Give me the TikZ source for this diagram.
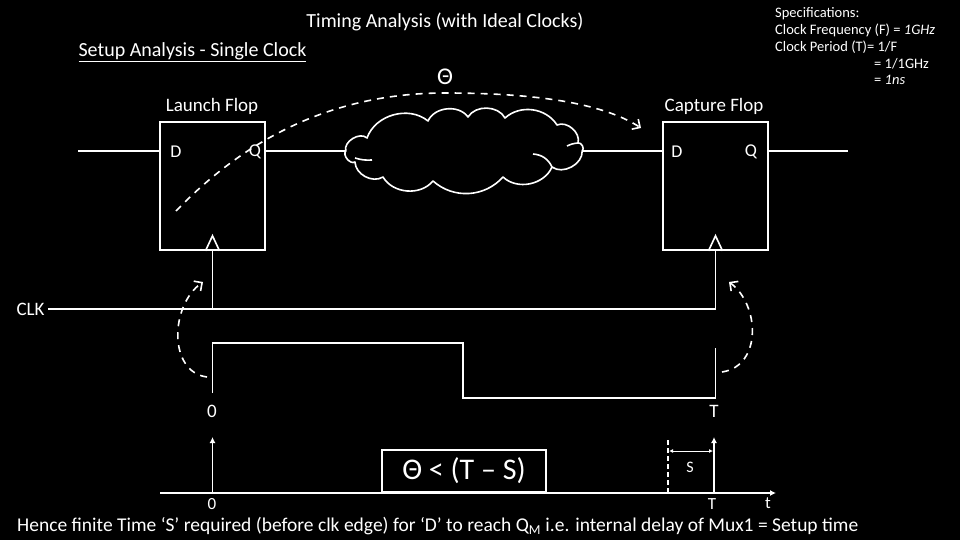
\documentclass[tikz,border=0pt]{standalone}
\usepackage{fontspec}
\setmainfont{Carlito}
\usetikzlibrary{arrows.meta,positioning,calc}

\tikzset{
    wire/.style={white, line width=1.6pt},
    flop/.style={draw=white, line width=1.6pt, minimum width=105pt, minimum height=128pt},
    pin/.style={text=white, font=\fontsize{18}{20}\selectfont},
    lbl/.style={text=white, font=\fontsize{19}{21}\selectfont},
    axlbl/.style={text=white, inner sep=0pt, font=\fontsize{17}{19}\selectfont},
    spec/.style={text=white, anchor=west, inner sep=0pt, font=\fontsize{14.5}{16}\selectfont},
    flow/.style={white, line width=1.6pt, dash pattern=on 7pt off 6pt,
        -{Straight Barb[length=6pt,width=12pt,line width=1.6pt]}},
    tick/.style={white, line width=1.6pt, -{Latex[length=6pt,width=6pt]}},
}

\begin{document}
\begin{tikzpicture}[x=1pt, y=-1pt]

    \fill[black] (0,0) rectangle (960,540);
    \useasboundingbox (0,0) rectangle (960,540);

    % headings
    \node[text=white, font=\fontsize{20}{22}\selectfont] (title) at (445,22) {Timing Analysis (with Ideal Clocks)};
    \node[text=white, font=\fontsize{20}{22}\selectfont, anchor=west] (sub) at (75,52) {\underline{Setup Analysis - Single Clock}};

    \node[spec] (spec1) at (775,14) {Specifications:};
    \node[spec] (spec2) at (775,30) {Clock Frequency (F) = \textit{1GHz}};
    \node[spec] (spec3) at (775,47) {Clock Period (T)= 1/F};
    \node[spec] (spec4) at (874,64) {= 1/1GHz};
    \node[spec] (spec5) at (874,80) {= \textit{1ns}};

    % flops
    \node[flop] (launch) at (212.5,186) {};
    \node[flop] (capture) at (715.5,186) {};
    \node[lbl] (launchlbl) at (212,106) {Launch Flop};
    \node[lbl] (capturelbl) at (714,106) {Capture Flop};

    \node[pin] (launchD) at (176,152) {D};
    \node[pin] (launchQ) at (255,152) {Q};
    \node[pin] (captureD) at (677,152) {D};
    \node[pin] (captureQ) at (751,152) {Q};

    % logic cloud
    \node[inner sep=0pt, minimum width=236pt, minimum height=58pt] (logic) at (464,151) {};
    \draw[wire, line join=round] (logic.west)
        to[bend left=75] (367,138) to[bend left=55] (428,121) to[bend left=60] (468,117)
        to[bend left=60] (505,118) to[bend left=50] (557,125) to[bend left=65] (578,143)
        to[bend left=80] (logic.east) to[bend left=65] (552,167) to[bend left=55] (503,177)
        to[bend left=45] (433,181) to[bend left=55] (383,177) to[bend left=60] (355,162)
        to[bend left=80] cycle;
    \draw[wire] (355,158) to[bend right=10] (372,160);
    \draw[wire] (533,154) to[bend left=30] (552,167);
    \draw[wire] (567,146) to[bend left=10] (578,143);

    \draw[wire] (78,151) -- ($(launch.west)+(0,-35)$);
    \draw[wire] ($(launch.east)+(0,-35)$) -- (logic.west);
    \draw[wire] (logic.east) -- ($(capture.west)+(0,-35)$);
    \draw[wire] ($(capture.east)+(0,-35)$) -- (848,151);

    % clock pins
    \foreach \f in {launch, capture} {
        \draw[wire, line join=miter] ($(\f.south)+(-7,0)$) -- ++(7,-15) -- ++(7,15);
    }

    % clock net
    \node[lbl, anchor=west] (clk) at (13,309) {CLK};
    \draw[wire] (clk.east) -| (capture.south);
    \draw[wire] (launch.south) -- (launch.south |- clk.east);

    % clock waveform
    \draw[wire] (212.5,393) -- (212.5,343) -- (463,343) -- (463,398) -- (715.5,398) -- (715.5,348);
    \node[lbl] (zero) at (212,411) {0};
    \node[lbl] (per) at (714,411) {T};

    \draw[flow] (207,377) .. controls (168,372) and (170,305) .. (203,282);
    \draw[flow] (722,372) .. controls (762,366) and (760,305) .. (729,282);

    % data path delay
    \draw[flow] (176,211) .. controls (235,150) and (320,93) .. (445,93)
                          .. controls (555,93) and (610,108) .. (641,128);
    \node[text=white, font=\fontsize{24}{26}\selectfont] (theta) at (445,77) {Θ};

    % time axis
    \draw[tick] (160,493) -- (776,493);
    \draw[tick] (212.5,493) -- (212.5,437);
    \draw[tick] (714,493) -- (714,437);
    \draw[white, line width=1.6pt, dash pattern=on 5pt off 3pt] (668,493) -- (668,440);
    \draw[white, line width=1pt, {Latex[length=4pt,width=4pt]}-{Latex[length=4pt,width=4pt]}] (669,451) -- (713,451);
    \node[text=white, font=\fontsize{16}{18}\selectfont] (slbl) at (690,467) {S};
    \node[axlbl, anchor=north] (zero2) at (212,498) {0};
    \node[axlbl, anchor=north] (per2) at (712,498) {T};
    \node[axlbl, anchor=north] (tlbl) at (768,498) {t};

    \node[draw=white, line width=1.6pt, minimum width=164pt, minimum height=42pt,
          text=white, font=\fontsize{30}{32}\selectfont] (cond) at (464,471) {Θ < (T – S)};

    \node[text=white, font=\fontsize{19.5}{21}\selectfont, anchor=west, inner sep=0pt] (note) at (17,526)
        {Hence finite Time ‘S’ required (before clk edge) for ‘D’ to reach Q\textsubscript{M} i.e. internal delay of Mux1 = Setup time};

\end{tikzpicture}
\end{document}
